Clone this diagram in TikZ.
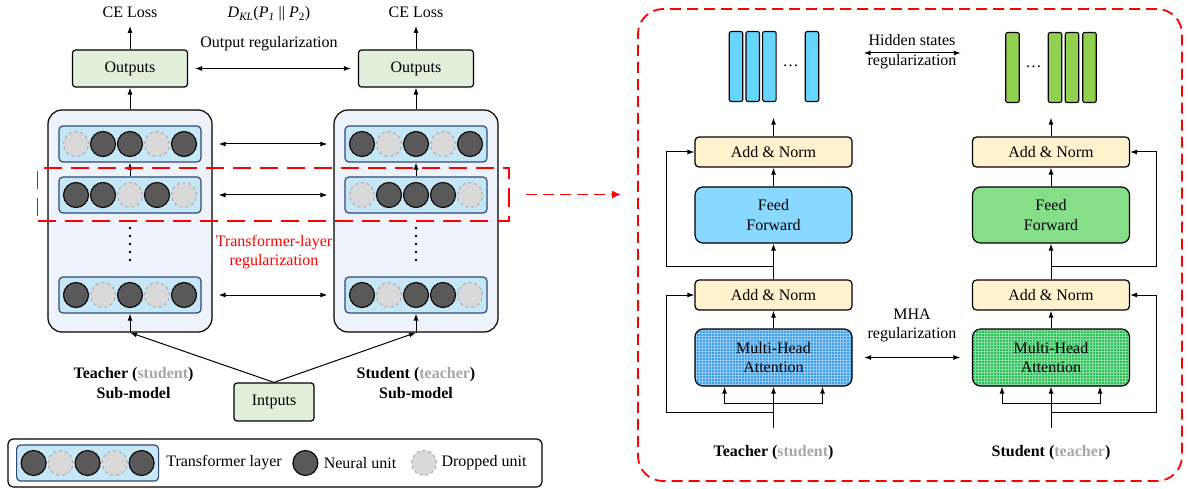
\documentclass[tikz,border=0pt]{standalone}
\usepackage{fontspec}
\setmainfont{Liberation Serif}
\usepackage{tikz}
\usetikzlibrary{arrows.meta,patterns}

\definecolor{outgreen}{HTML}{E2EFDA}
\definecolor{subfill}{HTML}{EEF3FB}
\definecolor{rowfill}{HTML}{C5E7F7}
\definecolor{rowline}{HTML}{2E4A75}
\definecolor{unitdark}{HTML}{595959}
\definecolor{unitlight}{HTML}{D9D9D9}
\definecolor{unitline}{HTML}{AAAAAA}
\definecolor{normfill}{HTML}{FFF2CC}
\definecolor{ffblue}{HTML}{89D8FF}
\definecolor{ffgreen}{HTML}{86DE88}
\definecolor{mhablue}{HTML}{3D9FEA}
\definecolor{mhagreen}{HTML}{2BC056}
\definecolor{barblue}{HTML}{66D6FF}
\definecolor{bargreen}{HTML}{92D050}
\definecolor{softgray}{HTML}{A6A6A6}

\begin{document}
\begin{tikzpicture}[x=1pt,y=-1pt,font=\fontsize{16}{19.5}\selectfont,
    arr/.style={-{Latex[length=7pt,width=5pt]},line width=1pt},
    biarr/.style={{Latex[length=7pt,width=5pt]}-{Latex[length=7pt,width=5pt]},line width=1pt},
    gapped/.style={shorten <=#1,shorten >=#1},
    outbox/.style={draw,fill=outgreen,rounded corners=3,line width=1.2pt,minimum width=115,minimum height=37},
    subbox/.style={draw,fill=subfill,rounded corners=14,line width=1.2pt,minimum width=164,minimum height=222},
    layer/.style={draw=rowline,fill=rowfill,rounded corners=4,line width=1.2pt,minimum width=142,minimum height=36},
    unitn/.style={circle,draw,fill=unitdark,line width=1.1pt,minimum size=25,inner sep=0},
    unitd/.style={circle,draw=unitline,dashed,fill=unitlight,line width=1pt,minimum size=25,inner sep=0},
    normbox/.style={draw,fill=normfill,rounded corners=4,line width=1.2pt,minimum width=157,minimum height=30},
    bigbox/.style={draw,rounded corners=8,line width=1.2pt,minimum width=157,minimum height=56,align=center},
    bar/.style={draw,rounded corners=2,line width=1.1pt,minimum width=13.5,minimum height=70,inner sep=0},
    reddash/.style={draw=red,line width=1.8pt,dash pattern=on 11pt off 6pt}]
    \useasboundingbox (0,0) rectangle (1188,489);

    % left part: the two sub-models
    \node (lossL) at (130,12) {CE Loss};
    \node (lossR) at (416,12) {CE Loss};
    \node (kl) at (269,14) {\textit{D}\textsubscript{\textit{KL}}(\textit{P}\textsubscript{\textit{1}} || \textit{P}\textsubscript{2})};
    \node (outreg) at (269,44) {Output regularization};

    \node[outbox] (outL) at (130,68.5) {Outputs};
    \node[outbox] (outR) at (416,68.5) {Outputs};
    \draw[arr,shorten >=5] (outL) -- (lossL);
    \draw[arr,shorten >=5] (outR) -- (lossR);
    \draw[biarr,gapped=7] (outL) -- (outR);

    % red label sits under the right box
    \node[red,align=center] (tlreg) at (274,252) {Transformer-layer\\regularization};

    \node[subbox] (subL) at (130,221) {};
    \node[subbox] (subR) at (416,221) {};
    \draw[arr] (subL) -- (outL);
    \draw[arr] (subR) -- (outR);

    % transformer layers with their units
    \foreach \nm/\cx/\cy/\pat in {L1/130/144/{d,n,n,d,n}, L2/130/195/{n,n,d,n,d}, L3/130/295/{n,d,n,d,n},
                                  R1/416/144/{n,d,n,d,n}, R2/416/195/{d,n,n,n,d}, R3/416/295/{n,d,n,n,d}}{
        \node[layer] (row\nm) at (\cx,\cy) {};
        \foreach \t [count=\i] in \pat
            \node[unit\t] (u\nm\i) at (\cx+\i*27-81,\cy) {};
    }
    \draw[arr] (rowL2) -- (rowL1);
    \draw[arr] (rowR2) -- (rowR1);
    \draw[arr] (subL.south) -- (rowL3);
    \draw[arr] (subR.south) -- (rowR3);

    %dots between the layers
    \foreach \k in {0,...,4}{
        \fill (130,228+\k*8) circle (1.3);
        \fill (416,228+\k*8) circle (1.3);
    }

    \draw[biarr,gapped=6] (subL.east |- rowL1) -- (subR.west |- rowR1);
    \draw[biarr,gapped=6] (subL.east |- rowL2) -- (subR.west |- rowR2);
    \draw[biarr,gapped=6] (subL.east |- rowL3) -- (subR.west |- rowR3);

    % inputs and sub-model names
    \node[outbox,minimum width=80,minimum height=38] (inp) at (274,402) {Intputs};
    \draw[arr] (inp.north) -- (subL.south);
    \draw[arr] (inp.north) -- (subR.south);
    \node[align=center,font=\fontsize{16}{19.5}\selectfont\bfseries] (teaL) at (133.6,383) {Teacher (\textcolor{softgray}{student})\\Sub-model};
    \node[align=center,font=\fontsize{16}{19.5}\selectfont\bfseries] (stuL) at (416,383) {Student (\textcolor{softgray}{teacher})\\Sub-model};

    % legend
    \node[draw,rounded corners=5,line width=1.2pt,minimum width=534,minimum height=48] (legend) at (275,463) {};
    \node[layer] (rowG) at (87.6,463) {};
    \foreach \t [count=\i] in {n,d,n,d,n}
        \node[unit\t] (uG\i) at (87.6+\i*27-81,463) {};
    \node (lgtxt1) at (224,463) {Transformer layer};
    \node[unitn] (lgN) at (305.4,463) {};
    \node (lgtxt2) at (360,463) {Neural unit};
    \node[unitd] (lgD) at (424,463) {};
    \node (lgtxt3) at (484,463) {Dropped unit};

    % highlighted layer and the zoom arrow
    \node[reddash,dash pattern=on 18pt off 9pt,minimum width=471.5,minimum height=53] (focus) at (273.25,194.5) {};
    \node[reddash,rounded corners=25,minimum width=544,minimum height=472] (panel) at (910,245) {};
    \draw[reddash,-{Latex[length=9pt,width=8pt]},shorten <=16,shorten >=16] (focus.east) -- (panel.west |- focus.east);

    % right part: inside one transformer layer
    \node[normbox] (anL1) at (773.5,152) {Add \& Norm};
    \node[bigbox,fill=ffblue] (ffL) at (773.5,215) {Feed\\Forward};
    \node[normbox] (anL2) at (773.5,295) {Add \& Norm};
    \node[bigbox,minimum height=57,preaction={fill=mhablue},pattern=grid,pattern color=white!45!mhablue] (mhaL) at (773.5,357.5) {Multi-Head\\Attention};

    \node[normbox] (anR1) at (1051,152) {Add \& Norm};
    \node[bigbox,fill=ffgreen] (ffR) at (1051,215) {Feed\\Forward};
    \node[normbox] (anR2) at (1051,295) {Add \& Norm};
    \node[bigbox,minimum height=57,preaction={fill=mhagreen},pattern=grid,pattern color=white!45!mhagreen] (mhaR) at (1051,357.5) {Multi-Head\\Attention};

    %hidden states
    \foreach \bx [count=\k] in {736,752.7,769.4,812}
        \node[bar,fill=barblue] (barL\k) at (\bx,66.5) {};
    \foreach \bx [count=\k] in {1012.5,1055,1072,1089.5}
        \node[bar,fill=bargreen] (barR\k) at (\bx,67.5) {};
    \node (dotsL) at (790.7,66) {\ldots};
    \node (dotsR) at (1033.6,67) {\ldots};
    \node[minimum width=90,minimum height=70,inner sep=0] (hsL) at (773.5,66.5) {};
    \node[minimum width=90,minimum height=70,inner sep=0] (hsR) at (1051,66.5) {};

    \draw[arr,shorten >=16] (anL1) -- (hsL);
    \draw[arr,shorten >=16] (anR1) -- (hsR);
    \draw[arr] (ffL) -- (anL1);
    \draw[arr] (ffR) -- (anR1);
    \draw[arr] (anL2) -- (ffL);
    \draw[arr] (anR2) -- (ffR);
    \draw[arr] (mhaL) -- (anL2);
    \draw[arr] (mhaR) -- (anR2);

    % residual connections
    \coordinate (jL1) at (773.5,266);
    \coordinate (jL2) at (773.5,412);
    \coordinate (jR1) at (1051,266);
    \coordinate (jR2) at (1051,412);
    \draw[arr] (jL1) -| ([xshift=-27.5]anL1.west) -- (anL1.west);
    \draw[arr] (jL2) -| ([xshift=-27.5]anL2.west) -- (anL2.west);
    \draw[arr] (jR1) -| ([xshift=26.5]anR1.east) -- (anR1.east);
    \draw[arr] (jR2) -| ([xshift=26.5]anR2.east) -- (anR2.east);

    %inputs of the attention
    \coordinate (inL) at (773.5,428);
    \coordinate (inR) at (1051,428);
    \coordinate (brL) at (773.5,403);
    \coordinate (brR) at (1051,403);
    \draw[arr] (inL) -- (mhaL.south);
    \draw[arr] (inR) -- (mhaR.south);
    \draw[arr] (brL) -| ([xshift=-49]mhaL.south);
    \draw[arr] (brL) -| ([xshift=49]mhaL.south);
    \draw[arr] (brR) -| ([xshift=-49]mhaR.south);
    \draw[arr] (brR) -| ([xshift=49]mhaR.south);

    % regularization between teacher and student
    \node[align=center] (hsreg) at (912,51.5) {Hidden states\\regularization};
    \draw[biarr,gapped=45] ([yshift=13.5]hsL.east) -- ([yshift=13.5]hsR.west);
    \node[align=center] (mhareg) at (912,325.5) {MHA\\regularization};
    \draw[biarr,gapped=11.5] (mhaL) -- (mhaR);

    \node[font=\fontsize{16}{19.5}\selectfont\bfseries] (teaR) at (773.5,453) {Teacher (\textcolor{softgray}{student})};
    \node[font=\fontsize{16}{19.5}\selectfont\bfseries] (stuR) at (1051,453) {Student (\textcolor{softgray}{teacher})};
\end{tikzpicture}
\end{document}
